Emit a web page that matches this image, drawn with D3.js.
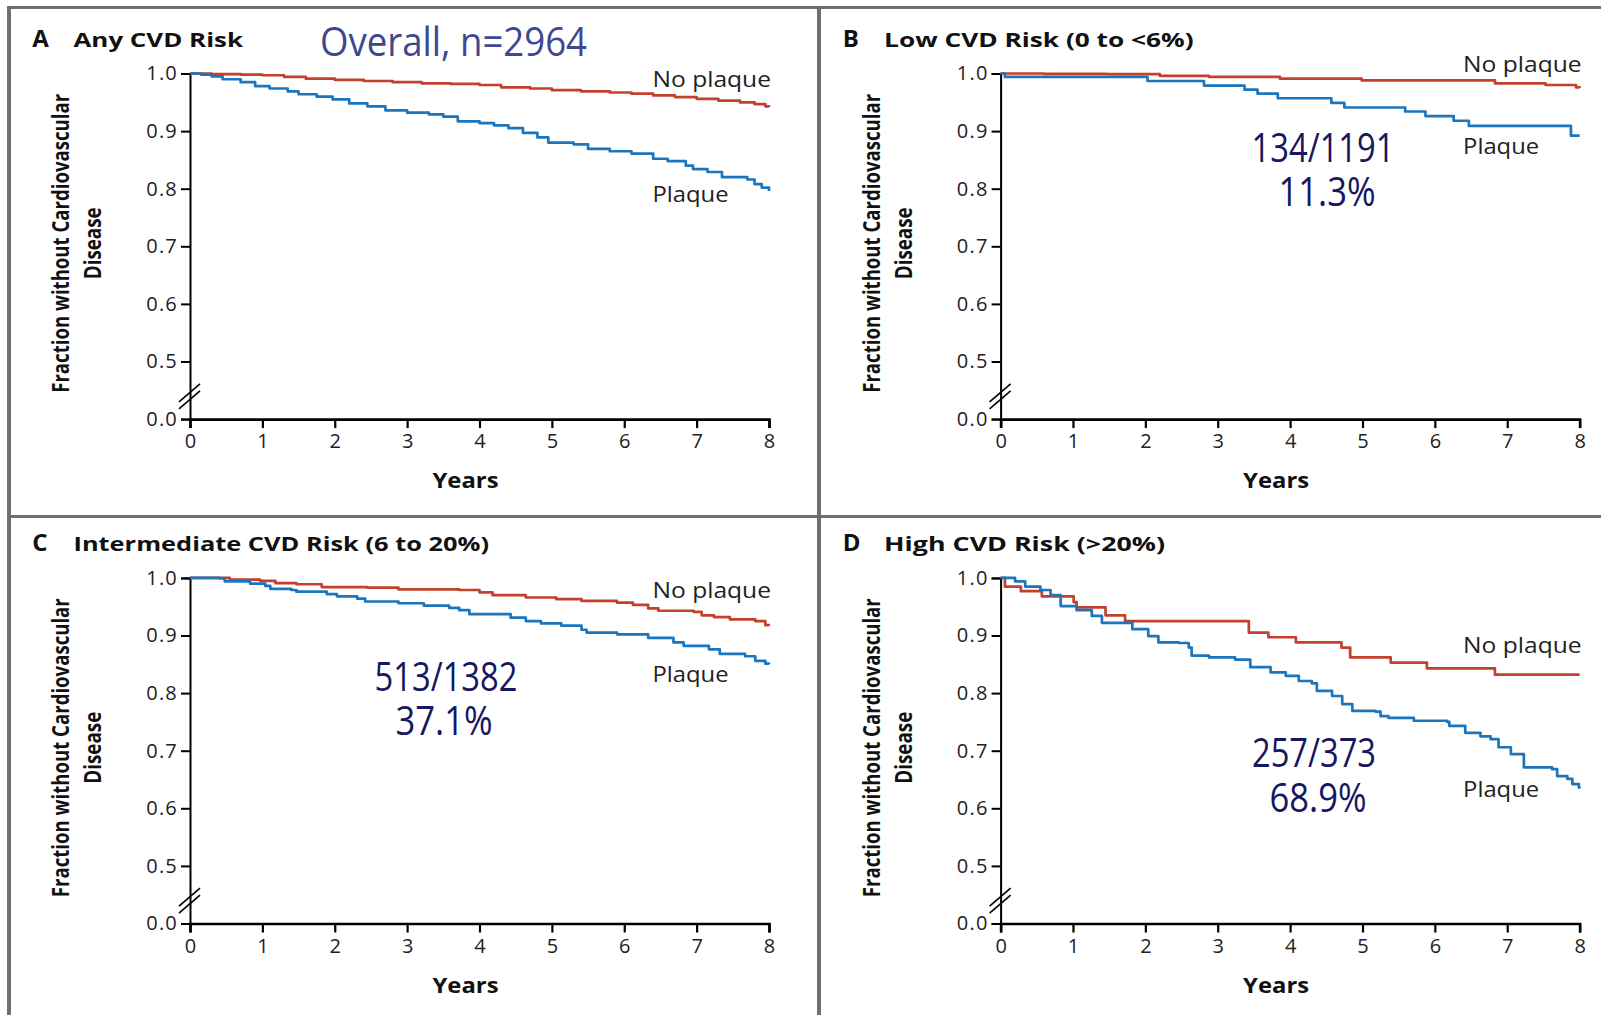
<!DOCTYPE html>
<html>
<head>
<meta charset="utf-8">
<script src="https://cdn.jsdelivr.net/npm/d3@7"></script>
<style>
  html, body { margin: 0; padding: 0; background: #fff; }
  svg { display: block; }
  text { font-family: "Open Sans", "Noto Sans", sans-serif; }
</style>
</head>
<body>
<svg id="chart" width="1601" height="1015"></svg>
<script>
// ---- data -------------------------------------------------------------
const yearTicks = [0, 1, 2, 3, 4, 5, 6, 7, 8];
const survivalTicks = [0.4, 0.5, 0.6, 0.7, 0.8, 0.9, 1.0]; // 0.4 slot carries the "0.0" label below the break

// Kaplan–Meier estimates: [years, fraction without CVD]
const anyRiskNoPlaque = [[0,1],[0.3,0.999],[0.7,0.998],[1.0,0.997],[1.3,0.994],[1.6,0.991],[2.0,0.989],[2.4,0.987],[2.8,0.985],[3.2,0.983],[3.6,0.982],[4.0,0.980],[4.3,0.976],[4.7,0.974],[5.0,0.971],[5.4,0.969],[5.8,0.967],[6.1,0.965],[6.4,0.962],[6.7,0.959],[7.0,0.956],[7.3,0.953],[7.6,0.950],[7.8,0.947],[7.95,0.943],[8.0,0.942]];
const anyRiskPlaque = [[0,1],[0.15,0.998],[0.3,0.995],[0.45,0.990],[0.7,0.985],[0.9,0.978],[1.1,0.974],[1.35,0.969],[1.5,0.964],[1.75,0.960],[1.97,0.955],[2.2,0.948],[2.45,0.943],[2.7,0.936],[3.0,0.932],[3.3,0.929],[3.5,0.925],[3.7,0.917],[4.0,0.914],[4.2,0.910],[4.4,0.905],[4.6,0.897],[4.8,0.889],[4.95,0.880],[5.3,0.877],[5.5,0.869],[5.8,0.865],[6.1,0.861],[6.4,0.852],[6.6,0.848],[6.85,0.840],[6.95,0.834],[7.15,0.829],[7.35,0.820],[7.7,0.816],[7.8,0.808],[7.9,0.802],[8.0,0.796]];

const lowRiskNoPlaque = [[0,1],[0.6,0.9995],[1.47,0.999],[2.2,0.996],[2.88,0.994],[3.86,0.991],[4.99,0.988],[6.47,0.988],[6.83,0.983],[7.53,0.980],[7.95,0.976],[8.0,0.975]];
const lowRiskPlaque = [[0,1],[0.06,0.994],[2.03,0.987],[2.81,0.979],[3.37,0.972],[3.55,0.965],[3.83,0.957],[4.57,0.949],[4.75,0.941],[5.59,0.934],[5.87,0.926],[6.26,0.918],[6.47,0.909],[7.88,0.892],[8.0,0.892]];

const intermediateRiskNoPlaque = [[0,1],[0.55,0.997],[0.97,0.995],[1.18,0.991],[1.47,0.989],[1.82,0.984],[2.45,0.983],[2.88,0.980],[3.72,0.979],[4.0,0.975],[4.18,0.970],[4.64,0.966],[5.06,0.963],[5.41,0.960],[5.9,0.957],[6.12,0.953],[6.33,0.947],[6.47,0.943],[6.96,0.941],[7.07,0.935],[7.24,0.932],[7.46,0.928],[7.81,0.925],[7.95,0.918],[8.0,0.917]];
const intermediateRiskPlaque = [[0,1],[0.41,0.999],[0.48,0.994],[0.83,0.990],[1.04,0.986],[1.11,0.981],[1.4,0.979],[1.47,0.976],[1.89,0.972],[2.03,0.968],[2.31,0.964],[2.42,0.959],[2.88,0.956],[3.23,0.952],[3.58,0.948],[3.72,0.944],[3.86,0.937],[4.43,0.931],[4.64,0.925],[4.85,0.921],[5.13,0.917],[5.41,0.910],[5.48,0.905],[5.9,0.902],[6.33,0.896],[6.68,0.888],[6.82,0.882],[7.17,0.876],[7.32,0.868],[7.67,0.864],[7.81,0.856],[7.95,0.851],[8.0,0.850]];

const highRiskNoPlaque = [[0,1],[0.06,0.985],[0.28,0.977],[0.57,0.968],[1.01,0.958],[1.05,0.949],[1.45,0.935],[1.72,0.925],[3.43,0.905],[3.70,0.897],[4.08,0.888],[4.71,0.879],[4.83,0.862],[5.39,0.853],[5.89,0.843],[6.83,0.832],[8.0,0.832]];
const highRiskPlaque = [[0,1],[0.2,0.994],[0.34,0.985],[0.55,0.979],[0.69,0.970],[0.83,0.951],[1.05,0.944],[1.26,0.934],[1.4,0.922],[1.68,0.922],[1.82,0.911],[2.04,0.899],[2.18,0.888],[2.46,0.887],[2.6,0.879],[2.64,0.865],[2.88,0.862],[3.24,0.858],[3.45,0.845],[3.73,0.836],[3.94,0.830],[4.12,0.821],[4.3,0.817],[4.37,0.804],[4.58,0.795],[4.72,0.781],[4.86,0.769],[5.18,0.768],[5.25,0.760],[5.36,0.757],[5.71,0.752],[6.17,0.750],[6.2,0.743],[6.42,0.731],[6.63,0.725],[6.77,0.720],[6.88,0.706],[7.05,0.694],[7.23,0.671],[7.62,0.668],[7.69,0.656],[7.83,0.651],[7.9,0.642],[7.99,0.636],[8.0,0.635]];

const panelLetters = ["A", "B", "C", "D"];
const panelTitles = ["Any CVD Risk", "Low CVD Risk (0 to <6%)", "Intermediate CVD Risk (6 to 20%)", "High CVD Risk (>20%)"];
const noPlaqueSeries = [anyRiskNoPlaque, lowRiskNoPlaque, intermediateRiskNoPlaque, highRiskNoPlaque];
const plaqueSeries = [anyRiskPlaque, lowRiskPlaque, intermediateRiskPlaque, highRiskPlaque];
const eventCounts = [null, "134/1191", "513/1382", "257/373"];
const eventPercents = [null, "11.3%", "37.1%", "68.9%"];
const overallLabel = "Overall, n=2964";

// ---- layout -----------------------------------------------------------
const RED = "#c2402c", BLUE = "#1c76bd", FRAME = "#6f6f6f";
const svg = d3.select("#chart");

const layout = [
  { ox: 0,     oy: 0,     x0: 190,    x1: 769,    y1: 73.5 },
  { ox: 810.6, oy: 0,     x0: 1000.6, x1: 1579.6, y1: 73.5 },
  { ox: 0,     oy: 504.4, x0: 190,    x1: 769,    y1: 577.9 },
  { ox: 810.6, oy: 504.4, x0: 1000.6, x1: 1579.6, y1: 577.9 }
];
const STEP = 57.6; // pixels per 0.1 of survival
const plaqueLabelY = [[87, 202], [71.5, 154], [598, 682], [652.5, 796.5]];
const countPos = [null, [1323, 162, 206], [446, 691, 735], [1314, 767, 812]];
const titleWidths = [169.5, 309.5, 415.5, 281];

layout.forEach((L, i) => {
  const g = svg.append("g");
  const x = d3.scaleLinear().domain([0, 8]).range([L.x0, L.x1]);
  const y = d3.scaleLinear().domain([0.4, 1]).range([L.y1 + 6 * STEP, L.y1]);

  // panel heading
  const headY = L.oy + 46.5;
  g.append("text").attr("x", L.ox + 32.2).attr("y", headY)
    .attr("font-size", 24).attr("font-weight", 700).attr("fill", "#111").text(panelLetters[i]);
  g.append("text").attr("x", L.ox + 73.5).attr("y", headY)
    .attr("font-size", 20).attr("font-weight", 700).attr("fill", "#111")
    .attr("textLength", titleWidths[i]).attr("lengthAdjust", "spacingAndGlyphs").text(panelTitles[i]);

  // y axis
  const yAxis = d3.axisLeft(y).tickValues(survivalTicks).tickSize(9).tickPadding(3)
    .tickFormat(d => d < 0.45 ? "0.0" : d3.format(".1f")(d));
  const ya = g.append("g").attr("transform", `translate(${L.x0},0)`).call(yAxis);
  ya.select(".domain").attr("stroke", "#000").attr("stroke-width", 2);
  ya.selectAll(".tick line").attr("stroke", "#000").attr("stroke-width", 2);
  ya.selectAll(".tick text").attr("font-size", 20).attr("fill", "#222")
    .attr("font-family", "'Open Sans', sans-serif").attr("letter-spacing", 1.2);

  // x axis
  const xAxis = d3.axisBottom(x).tickValues(yearTicks).tickSize(9).tickPadding(6).tickFormat(d3.format("d"));
  const xa = g.append("g").attr("transform", `translate(0,${y(0.4)})`).call(xAxis);
  xa.select(".domain").attr("stroke", "#000").attr("stroke-width", 2.6);
  xa.selectAll(".tick line").attr("stroke", "#000").attr("stroke-width", 2.2);
  xa.selectAll(".tick text").attr("font-size", 20).attr("fill", "#222")
    .attr("font-family", "'Open Sans', sans-serif");

  // axis break marks between 0.5 and 0.0
  const by = y(0.45) + 6;
  [-3.5, 3.5].forEach(dy => {
    g.append("line").attr("x1", L.x0 - 11).attr("y1", by + dy + 9)
      .attr("x2", L.x0 + 10).attr("y2", by + dy - 9)
      .attr("stroke", "#000").attr("stroke-width", 1.6);
  });

  // axis titles
  const midY = (L.y1 + y(0.4)) / 2 - 3;
  g.append("text").attr("transform", `translate(${L.ox + 69},${midY}) rotate(-90)`)
    .attr("text-anchor", "middle").attr("font-size", 23).attr("font-weight", 700).attr("fill", "#111")
    .attr("textLength", 299).attr("lengthAdjust", "spacingAndGlyphs")
    .text("Fraction without Cardiovascular");
  g.append("text").attr("transform", `translate(${L.ox + 101},${midY}) rotate(-90)`)
    .attr("text-anchor", "middle").attr("font-size", 23).attr("font-weight", 700).attr("fill", "#111")
    .attr("textLength", 72).attr("lengthAdjust", "spacingAndGlyphs")
    .text("Disease");
  g.append("text").attr("x", (L.x0 + L.x1) / 2 - 14).attr("y", y(0.4) + 69)
    .attr("text-anchor", "middle").attr("font-size", 21).attr("font-weight", 700).attr("fill", "#111")
    .attr("textLength", 66).attr("lengthAdjust", "spacingAndGlyphs").text("Years");

  // survival curves
  const line = d3.line().x(d => x(d[0])).y(d => y(d[1])).curve(d3.curveStepAfter);
  [[noPlaqueSeries[i], RED], [plaqueSeries[i], BLUE]].forEach(([data, col]) => {
    g.append("path").datum(data).attr("d", line).attr("fill", "none")
      .attr("stroke", col).attr("stroke-width", 2.7).attr("stroke-linejoin", "round");
  });

  // curve labels
  const lx = L.x0 + 462.5;
  g.append("text").attr("x", lx).attr("y", plaqueLabelY[i][0]).attr("font-size", 22).attr("fill", "#222")
    .attr("textLength", 118.5).attr("lengthAdjust", "spacingAndGlyphs").text("No plaque");
  g.append("text").attr("x", lx).attr("y", plaqueLabelY[i][1]).attr("font-size", 22).attr("fill", "#222")
    .attr("textLength", 76).attr("lengthAdjust", "spacingAndGlyphs").text("Plaque");

  // event counts: one text block, two lines
  if (countPos[i]) {
    const [cx, b1, b2] = countPos[i];
    const t = g.append("text").attr("text-anchor", "middle")
      .attr("font-size", 41).attr("fill", "#17175f");
    t.append("tspan").attr("x", cx).attr("y", b1)
      .attr("textLength", i === 3 ? 124 : 143).attr("lengthAdjust", "spacingAndGlyphs")
      .text(eventCounts[i]);
    t.append("tspan").attr("x", cx - (i === 2 ? 2 : -4)).attr("y", b2)
      .attr("textLength", 97).attr("lengthAdjust", "spacingAndGlyphs")
      .text(eventPercents[i]);
  }
});

// overall sample size
svg.append("text").attr("x", 320).attr("y", 56).attr("font-size", 41).attr("fill", "#3d4891")
  .attr("textLength", 267).attr("lengthAdjust", "spacingAndGlyphs").text(overallLabel);

// panel frame
const frame = svg.append("g").attr("stroke", FRAME);
frame.append("line").attr("x1", 7).attr("x2", 1601).attr("y1", 7.5).attr("y2", 7.5).attr("stroke-width", 3);
frame.append("line").attr("x1", 9).attr("x2", 9).attr("y1", 6).attr("y2", 1015).attr("stroke-width", 4);
frame.append("line").attr("x1", 819).attr("x2", 819).attr("y1", 6).attr("y2", 1015).attr("stroke-width", 4);
frame.append("line").attr("x1", 9).attr("x2", 1601).attr("y1", 516.5).attr("y2", 516.5).attr("stroke-width", 3);
</script>
</body>
</html>
